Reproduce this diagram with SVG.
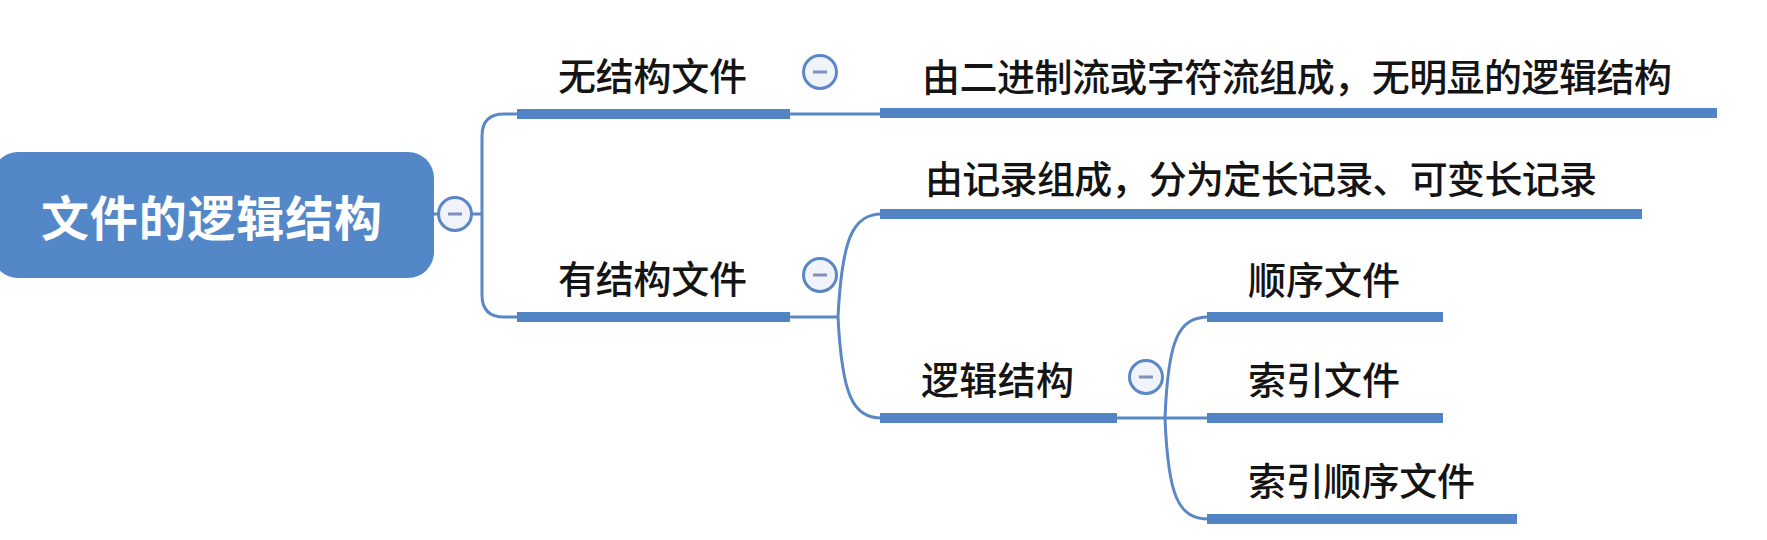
<svg xmlns="http://www.w3.org/2000/svg" width="1767" height="540" viewBox="0 0 1767 540">
<style>
.bg{fill:#ffffff}
.t{font-family:"Noto Sans CJK SC","Noto Sans",sans-serif;font-size:38px;font-weight:500;fill:#141414}
.rt{font-family:"Noto Sans CJK SC","Noto Sans",sans-serif;font-size:48px;font-weight:bold;fill:#ffffff}
.bar{stroke:#5283c4;stroke-width:10;fill:none}
.ln{stroke:#5a87c5;stroke-width:3;fill:none}
.cc{fill:#f1f3fa;stroke:#5a87c5;stroke-width:3}
.cm{stroke:#7d8fbd;stroke-width:3}
</style>
<defs>
<g id="col"><circle class="cc" cx="0" cy="0" r="16.5"/><line class="cm" x1="-7" y1="0" x2="7" y2="0"/></g>
</defs>
<rect class="bg" x="0" y="0" width="1767" height="540"/>
<g id="connectors">
<path class="ln" d="M 430 214 H 482"/>
<path class="ln" d="M 519 114 H 504 Q 482 114 482 136 V 295 Q 482 317 504 317 H 519"/>
<path class="ln" d="M 788 114 H 882"/>
<path class="ln" d="M 788 317 H 838"/>
<path class="ln" d="M 838 317 C 842 240 852 214 882 214"/>
<path class="ln" d="M 838 317 C 842 394 852 418 882 418"/>
<path class="ln" d="M 1115 418 H 1209"/>
<path class="ln" d="M 1165 418 C 1168 340 1178 317 1209 317"/>
<path class="ln" d="M 1165 418 C 1168 496 1178 519 1209 519"/>
</g>
<g id="root">
<rect x="-8" y="152" width="442" height="126" rx="26" fill="#5387c8"/>
<text class="rt" x="41" y="236" textLength="341" lengthAdjust="spacing">文件的逻辑结构</text>
<use href="#col" x="455" y="214"/>
</g>
<g id="n-wujiegou">
<text class="t" x="558" y="90" textLength="189" lengthAdjust="spacing">无结构文件</text>
<line class="bar" x1="517" y1="114" x2="790" y2="114"/>
<use href="#col" x="820" y="72"/>
</g>
<g id="n-wujiegou-desc">
<text class="t" x="922" y="91" textLength="750" lengthAdjust="spacing">由二进制流或字符流组成，无明显的逻辑结构</text>
<line class="bar" x1="880" y1="113" x2="1717" y2="113"/>
</g>
<g id="n-youjiegou">
<text class="t" x="558" y="293" textLength="189" lengthAdjust="spacing">有结构文件</text>
<line class="bar" x1="517" y1="317" x2="790" y2="317"/>
<use href="#col" x="820" y="275"/>
</g>
<g id="n-youjiegou-desc">
<text class="t" x="925" y="193" textLength="672" lengthAdjust="spacing">由记录组成，分为定长记录、可变长记录</text>
<line class="bar" x1="880" y1="214" x2="1642" y2="214"/>
</g>
<g id="n-luoji">
<text class="t" x="921" y="394" textLength="153" lengthAdjust="spacing">逻辑结构</text>
<line class="bar" x1="880" y1="418" x2="1117" y2="418"/>
<use href="#col" x="1146" y="377"/>
</g>
<g id="n-shunxu">
<text class="t" x="1248" y="294" textLength="152" lengthAdjust="spacing">顺序文件</text>
<line class="bar" x1="1207" y1="317" x2="1443" y2="317"/>
</g>
<g id="n-suoyin">
<text class="t" x="1248" y="394" textLength="152" lengthAdjust="spacing">索引文件</text>
<line class="bar" x1="1207" y1="418" x2="1443" y2="418"/>
</g>
<g id="n-suoyinshunxu">
<text class="t" x="1248" y="495" textLength="227" lengthAdjust="spacing">索引顺序文件</text>
<line class="bar" x1="1207" y1="519" x2="1517" y2="519"/>
</g>
</svg>
